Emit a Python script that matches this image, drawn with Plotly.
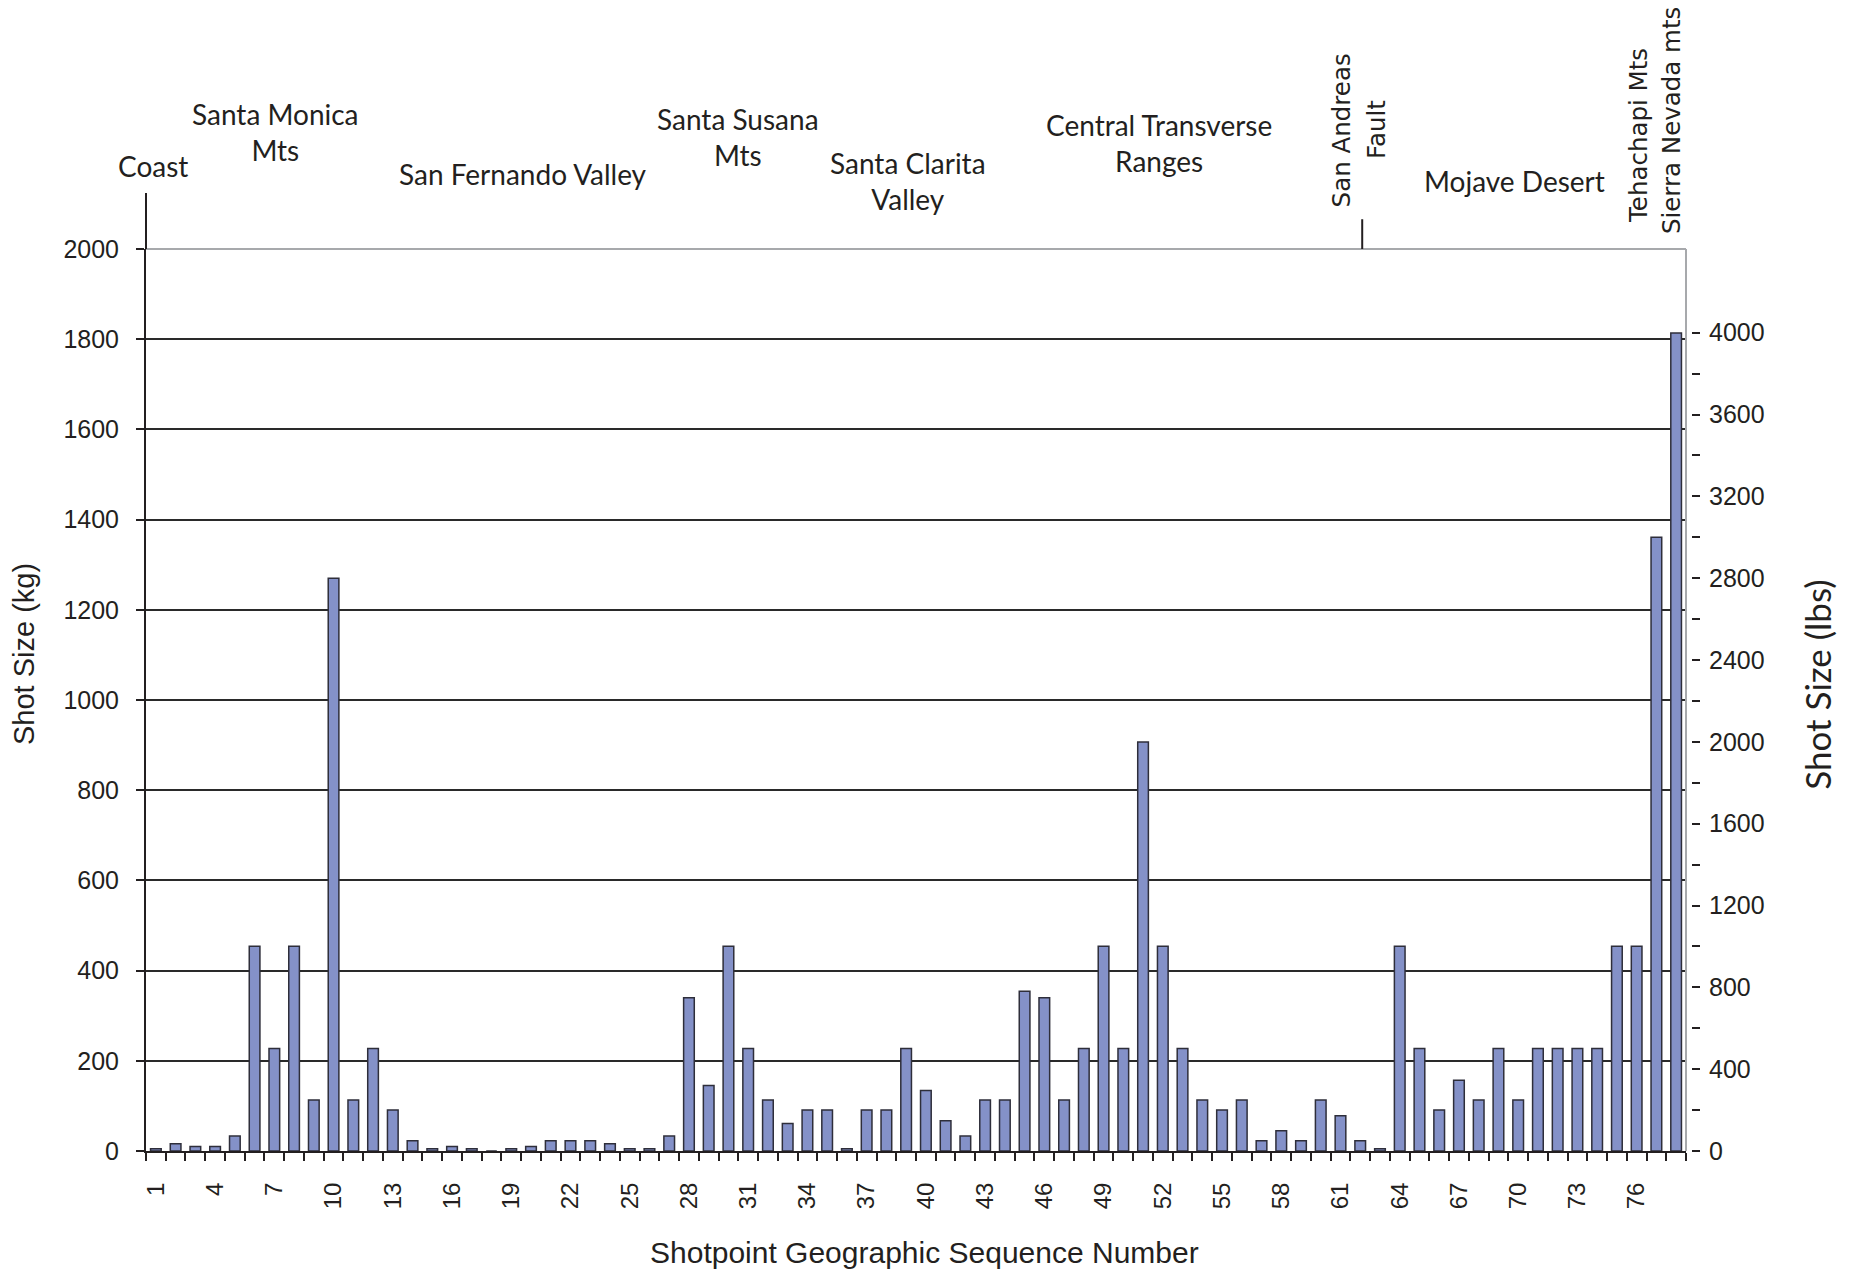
import plotly.graph_objects as go

# Shot size per shotpoint, in kilograms, ordered by geographic sequence
shotpoints = list(range(1, 79))
shot_kg = [
    5, 16, 10, 10, 33, 454, 227, 454, 113, 1270,
    113, 227, 91, 23, 5, 10, 5, 0, 5, 10,
    23, 23, 23, 16, 5, 5, 33, 340, 145, 454,
    227, 113, 61, 91, 91, 5, 91, 91, 227, 134,
    67, 33, 113, 113, 354, 340, 113, 227, 454, 227,
    907, 454, 227, 113, 91, 113, 23, 45, 23, 113,
    78, 23, 5, 454, 227, 91, 157, 113, 227, 113,
    227, 227, 227, 227, 454, 454, 1361, 1814,
]
KG_TO_LB = 2.20462

tick_positions = list(range(1, 77, 3))
tick_labels = [str(v) for v in tick_positions]
kg_ticks = list(range(0, 2001, 200))
lb_ticks = list(range(0, 4001, 400))
lb_minor_ticks = list(range(200, 4000, 400))

# Region names shown above the plot: (text, shotpoint position, paper y)
regions = [
    ("Coast", 0.85, 1.092),
    ("Santa Monica<br>Mts", 7.05, 1.130),
    ("San Fernando Valley", 19.6, 1.083),
    ("Santa Susana<br>Mts", 30.5, 1.124),
    ("Santa Clarita<br>Valley", 39.1, 1.075),
    ("Central Transverse<br>Ranges", 51.8, 1.118),
    ("Mojave Desert", 69.8, 1.075),
]
# Vertically written region names: (text, shotpoint position, paper y)
vertical_regions = [
    ("San Andreas", 61.05, 1.132),
    ("Fault", 62.85, 1.132),
    ("Tehachapi Mts", 76.1, 1.126),
    ("Sierra Nevada mts", 77.8, 1.142),
]

W, H = 1858, 1273
ML, MR, MT, MB = 146, 160, 249, 122
plot_w = W - ML - MR
x_end = (1686 - ML) / plot_w
y2_pos = (1691 - ML) / plot_w

TEXT = "#231f20"
num_font = dict(family="Liberation Sans, Arial, sans-serif", size=25, color=TEXT)

fig = go.Figure()
fig.add_trace(go.Bar(
    x=shotpoints, y=shot_kg,
    marker=dict(color="#8491c8", line=dict(color="#2e2e3a", width=1.5)),
    hoverinfo="x+y",
))
# companion trace carrying the pound scale on the right axis
fig.add_trace(go.Scatter(
    x=shotpoints, y=[v * KG_TO_LB for v in shot_kg], yaxis="y2",
    mode="markers", marker=dict(size=1, opacity=0), hoverinfo="skip",
    showlegend=False,
))

fig.update_layout(
    width=W, height=H,
    margin=dict(l=ML, r=MR, t=MT, b=MB),
    paper_bgcolor="white", plot_bgcolor="white",
    showlegend=False, bargap=0.46,
    xaxis=dict(
        domain=[0, x_end], range=[0.5, 78.5],
        tickmode="array", tickvals=tick_positions, ticktext=tick_labels,
        tickangle=-90, ticks="",
        tickfont=dict(family="Liberation Sans Narrow, Liberation Sans, Arial", size=24, color=TEXT),
        ticklabelstandoff=20,
        minor=dict(tick0=0.5, dtick=1, ticks="outside", ticklen=8, tickwidth=1.5, tickcolor=TEXT),
        showline=True, linecolor=TEXT, linewidth=2,
        showgrid=False, zeroline=False, fixedrange=True,
    ),
    yaxis=dict(
        range=[0, 2000], tickmode="array", tickvals=kg_ticks,
        ticks="outside", ticklen=8, tickwidth=1.5, tickcolor=TEXT,
        tickfont=num_font, ticklabelstandoff=12,
        showline=True, linecolor=TEXT, linewidth=2,
        showgrid=True, gridcolor="#2a2a2a", gridwidth=1.5,
        zeroline=False, fixedrange=True,
    ),
    yaxis2=dict(
        overlaying="y", anchor="free", position=y2_pos, side="right",
        range=[0, 2000 * KG_TO_LB], tickmode="array", tickvals=lb_ticks,
        ticks="outside", ticklen=8, tickwidth=1.5, tickcolor=TEXT,
        minor=dict(tickmode="array", tickvals=lb_minor_ticks,
                   ticks="outside", ticklen=8, tickwidth=1.5, tickcolor=TEXT),
        tickfont=num_font, ticklabelstandoff=4,
        showline=False, showgrid=False, zeroline=False, fixedrange=True,
    ),
)

# light frame on the top and right of the plotting area
fig.add_shape(type="line", xref="x domain", yref="y domain", x0=0, x1=1, y0=1, y1=1,
              line=dict(color="#a7a9ac", width=2))
fig.add_shape(type="line", xref="x domain", yref="y domain", x0=1, x1=1, y0=0, y1=1,
              line=dict(color="#a7a9ac", width=2))
# boundary markers for the coast and the San Andreas Fault
fig.add_shape(type="line", xref="x domain", yref="paper", x0=0, x1=0, y0=1.0, y1=1.062,
              line=dict(color=TEXT, width=2))
fig.add_shape(type="line", xref="x", yref="paper", x0=62.1, x1=62.1, y0=1.0, y1=1.033,
              line=dict(color=TEXT, width=2))

for text, xpos, ypos in regions:
    fig.add_annotation(text=text, x=xpos, xref="x", y=ypos, yref="paper",
                       xanchor="center", yanchor="middle", showarrow=False,
                       font=dict(family="Lato, Open Sans, sans-serif", size=28, color=TEXT))
for text, xpos, ypos in vertical_regions:
    fig.add_annotation(text=text, x=xpos, xref="x", y=ypos, yref="paper",
                       xanchor="center", yanchor="middle", showarrow=False, textangle=-90,
                       font=dict(family="DejaVu Sans, Verdana, sans-serif", size=24.5, color=TEXT))

fig.add_annotation(text="Shotpoint Geographic Sequence Number", x=(924 - ML) / plot_w, xref="paper",
                   y=-0.112, yref="paper", xanchor="center", yanchor="middle", showarrow=False,
                   font=dict(family="Liberation Sans, Arial, sans-serif", size=30, color=TEXT))
fig.add_annotation(text="Shot Size (kg)", x=(24 - ML) / plot_w, xref="paper",
                   y=0.551, yref="paper", xanchor="center", yanchor="middle", showarrow=False,
                   textangle=-90,
                   font=dict(family="Liberation Sans, Arial, sans-serif", size=29, color=TEXT))
fig.add_annotation(text="Shot Size (lbs)", x=(1817 - ML) / plot_w, xref="paper",
                   y=0.517, yref="paper", xanchor="center", yanchor="middle", showarrow=False,
                   textangle=-90,
                   font=dict(family="Lato, Open Sans, sans-serif", size=35, color=TEXT))

fig.write_html("out.html", config={"displayModeBar": False})
